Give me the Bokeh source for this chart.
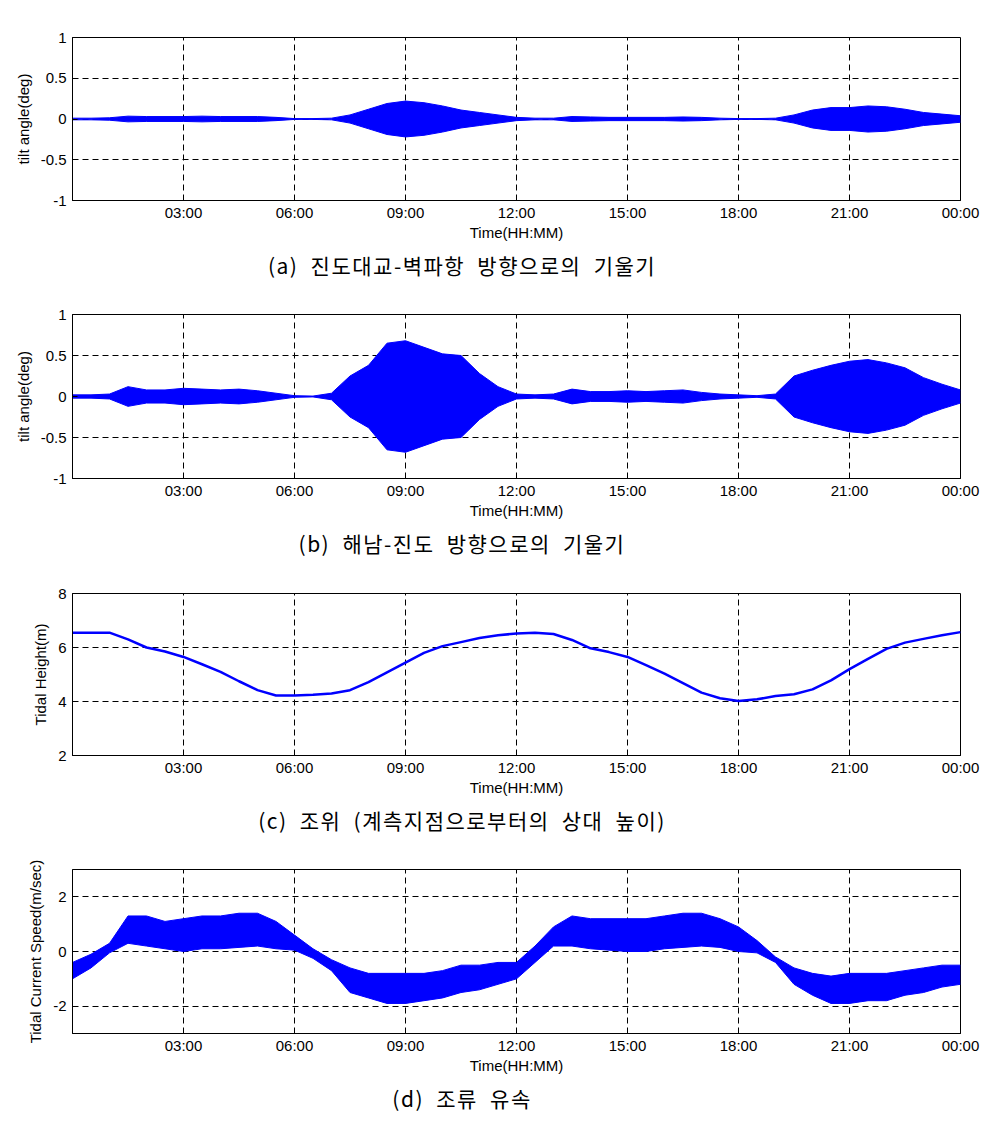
from bokeh.plotting import figure
from bokeh.layouts import column
from bokeh.models import FixedTicker, Range1d, Div
from bokeh.embed import file_html
from bokeh.resources import INLINE

# ---- data ----
time_h = [0.0, 0.5, 1.0, 1.5, 2.0, 2.5, 3.0, 3.5, 4.0, 4.5, 5.0, 5.5,
          6.0, 6.5, 7.0, 7.5, 8.0, 8.5, 9.0, 9.5, 10.0, 10.5, 11.0, 11.5,
          12.0, 12.5, 13.0, 13.5, 14.0, 14.5, 15.0, 15.5, 16.0, 16.5, 17.0, 17.5,
          18.0, 18.5, 19.0, 19.5, 20.0, 20.5, 21.0, 21.5, 22.0, 22.5, 23.0, 23.5,
          24.0]

# (a) tilt envelope amplitude (deg)
tilt_a_amp = [0.01, 0.01, 0.015, 0.035, 0.03, 0.03, 0.03, 0.035, 0.03, 0.03, 0.03, 0.02,
              0.005, 0.005, 0.01, 0.05, 0.12, 0.19, 0.22, 0.2, 0.16, 0.11, 0.08, 0.05,
              0.02, 0.01, 0.01, 0.03, 0.025, 0.02, 0.02, 0.02, 0.02, 0.025, 0.02, 0.01,
              0.005, 0.005, 0.01, 0.05, 0.11, 0.14, 0.14, 0.16, 0.15, 0.12, 0.08, 0.06,
              0.04]

# (b) tilt envelope amplitude (deg)
tilt_b_amp = [0.02, 0.02, 0.03, 0.12, 0.08, 0.08, 0.1, 0.09, 0.08, 0.09, 0.07, 0.04,
              0.01, 0.005, 0.04, 0.25, 0.38, 0.65, 0.68, 0.6, 0.52, 0.5, 0.28, 0.12,
              0.03, 0.02, 0.03, 0.09, 0.06, 0.06, 0.07, 0.06, 0.07, 0.08, 0.05, 0.03,
              0.02, 0.01, 0.03, 0.25, 0.32, 0.38, 0.43, 0.45, 0.41, 0.35, 0.23, 0.15,
              0.08]

# (c) tidal height (m)
tide_height = [6.55, 6.55, 6.55, 6.3, 6.0, 5.85, 5.65, 5.38, 5.1, 4.75, 4.42, 4.22,
               4.22, 4.25, 4.3, 4.42, 4.72, 5.08, 5.44, 5.8, 6.05, 6.2, 6.35, 6.45,
               6.52, 6.55, 6.5, 6.28, 5.97, 5.83, 5.65, 5.35, 5.03, 4.68, 4.33, 4.12,
               4.02, 4.08, 4.2, 4.27, 4.45, 4.78, 5.2, 5.58, 5.95, 6.18, 6.32, 6.45,
               6.57]

# (d) tidal current speed envelope (m/sec)
current_upper = [-0.4, -0.1, 0.3, 1.3, 1.3, 1.1, 1.2, 1.3, 1.3, 1.4, 1.4, 1.1,
                 0.6, 0.1, -0.3, -0.6, -0.8, -0.8, -0.8, -0.8, -0.7, -0.5, -0.5, -0.4,
                 -0.4, 0.2, 0.9, 1.3, 1.2, 1.2, 1.2, 1.2, 1.3, 1.4, 1.4, 1.2,
                 0.9, 0.4, -0.2, -0.6, -0.8, -0.9, -0.8, -0.8, -0.8, -0.7, -0.6, -0.5,
                 -0.5]
current_lower = [-1.0, -0.6, -0.05, 0.3, 0.2, 0.1, 0.0, 0.1, 0.1, 0.15, 0.2, 0.1,
                 0.05, -0.25, -0.7, -1.5, -1.7, -1.9, -1.9, -1.8, -1.7, -1.5, -1.4, -1.2,
                 -1.0, -0.4, 0.2, 0.2, 0.1, 0.05, 0.0, 0.0, 0.1, 0.15, 0.2, 0.15,
                 0.0, -0.05, -0.4, -1.2, -1.6, -1.9, -1.9, -1.8, -1.8, -1.6, -1.5, -1.3,
                 -1.2]

x_ticks = [3, 6, 9, 12, 15, 18, 21, 24]
x_tick_labels = ["03:00", "06:00", "09:00", "12:00", "15:00", "18:00", "21:00", "00:00"]

tilt_ticks = [-1, -0.5, 0, 0.5, 1]
tilt_tick_labels = ["-1", "-0.5", "0", "0.5", "1"]
tide_ticks = [2, 4, 6, 8]
tide_tick_labels = ["2", "4", "6", "8"]
cur_ticks = [-2, 0, 2]
cur_tick_labels = ["-2", "0", "2"]

captions = ["(a) 진도대교-벽파항 방향으로의 기울기",
            "(b) 해남-진도 방향으로의 기울기",
            "(c) 조위 (계측지점으로부터의 상대 높이)",
            "(d) 조류 유속"]

BLUE = "#0000ff"
FONT = "Liberation Sans"
BOTTOM = 44


def make_panel(yr, yticks, ylabels, ylabel, frame_h):
    p = figure(width=996, height=37 + frame_h + BOTTOM,
               frame_width=888, frame_height=frame_h,
               min_border_left=72, min_border_right=36,
               min_border_top=37, min_border_bottom=BOTTOM,
               x_range=Range1d(0, 24), y_range=Range1d(*yr),
               output_backend="svg", toolbar_location=None,
               background_fill_color="white", border_fill_color="white")
    p.outline_line_color = "black"
    p.outline_line_width = 1
    p.outline_line_alpha = 1

    for ax, ticks, labels in ((p.xaxis[0], x_ticks, x_tick_labels),
                              (p.yaxis[0], yticks, ylabels)):
        ax.ticker = FixedTicker(ticks=ticks)
        ax.major_label_overrides = {t: l for t, l in zip(ticks, labels)}
        ax.major_tick_in = 5
        ax.major_tick_out = 0
        ax.minor_tick_in = 0
        ax.minor_tick_out = 0
        ax.axis_line_color = "black"
        ax.major_tick_line_color = "black"
        ax.major_label_text_font = FONT
        ax.major_label_text_font_size = "15px"
        ax.major_label_text_color = "black"
        ax.axis_label_text_font = FONT
        ax.axis_label_text_font_size = "15px"
        ax.axis_label_text_font_style = "normal"
        ax.axis_label_text_color = "black"
    p.xaxis.major_label_standoff = 3
    p.xaxis.axis_label_standoff = 0
    p.yaxis.major_label_standoff = 6
    p.yaxis.axis_label_standoff = 6
    p.xaxis.axis_label = "Time(HH:MM)"
    p.yaxis.axis_label = ylabel

    for g, ticks in ((p.xgrid, x_ticks), (p.ygrid, yticks)):
        g.ticker = FixedTicker(ticks=ticks)
        g.grid_line_color = "black"
        g.grid_line_alpha = 1
        g.grid_line_width = 1
        g.grid_line_dash = "6 4"
    return p


def caption_div(text, h):
    return Div(text=text, width=924, height=h, margin=(0, 0, 0, 0),
               styles={"text-align": "center", "font-family": "'Noto Sans CJK KR'",
                       "font-size": "21px", "letter-spacing": "1.5px",
                       "word-spacing": "6px", "line-height": "1",
                       "padding-top": "11px", "color": "black",
                       "box-sizing": "border-box", "overflow": "visible"})


pa = make_panel((-1, 1), tilt_ticks, tilt_tick_labels, "tilt angle(deg)", 163)
pa.varea(x=time_h, y1=[-v for v in tilt_a_amp], y2=tilt_a_amp, fill_color=BLUE)
pa.line(x=time_h, y=tilt_a_amp, line_color=BLUE, line_width=1)
pa.line(x=time_h, y=[-v for v in tilt_a_amp], line_color=BLUE, line_width=1)

pb = make_panel((-1, 1), tilt_ticks, tilt_tick_labels, "tilt angle(deg)", 164)
pb.varea(x=time_h, y1=[-v for v in tilt_b_amp], y2=tilt_b_amp, fill_color=BLUE)
pb.line(x=time_h, y=tilt_b_amp, line_color=BLUE, line_width=1)
pb.line(x=time_h, y=[-v for v in tilt_b_amp], line_color=BLUE, line_width=1)

pc = make_panel((2, 8), tide_ticks, tide_tick_labels, "Tidal Height(m)", 162)
pc.line(x=time_h, y=tide_height, line_color=BLUE, line_width=2.5)

pd = make_panel((-3, 3), cur_ticks, cur_tick_labels, "Tidal Current Speed(m/sec)", 164)
pd.varea(x=time_h, y1=current_lower, y2=current_upper, fill_color=BLUE)
pd.line(x=time_h, y=current_upper, line_color=BLUE, line_width=1)
pd.line(x=time_h, y=current_lower, line_color=BLUE, line_width=1)

layout = column(pa, caption_div(captions[0], 33),
                pb, caption_div(captions[1], 34),
                pc, caption_div(captions[2], 33),
                pd, caption_div(captions[3], 59), spacing=0)
open("out.html", "w").write(file_html(layout, INLINE))
